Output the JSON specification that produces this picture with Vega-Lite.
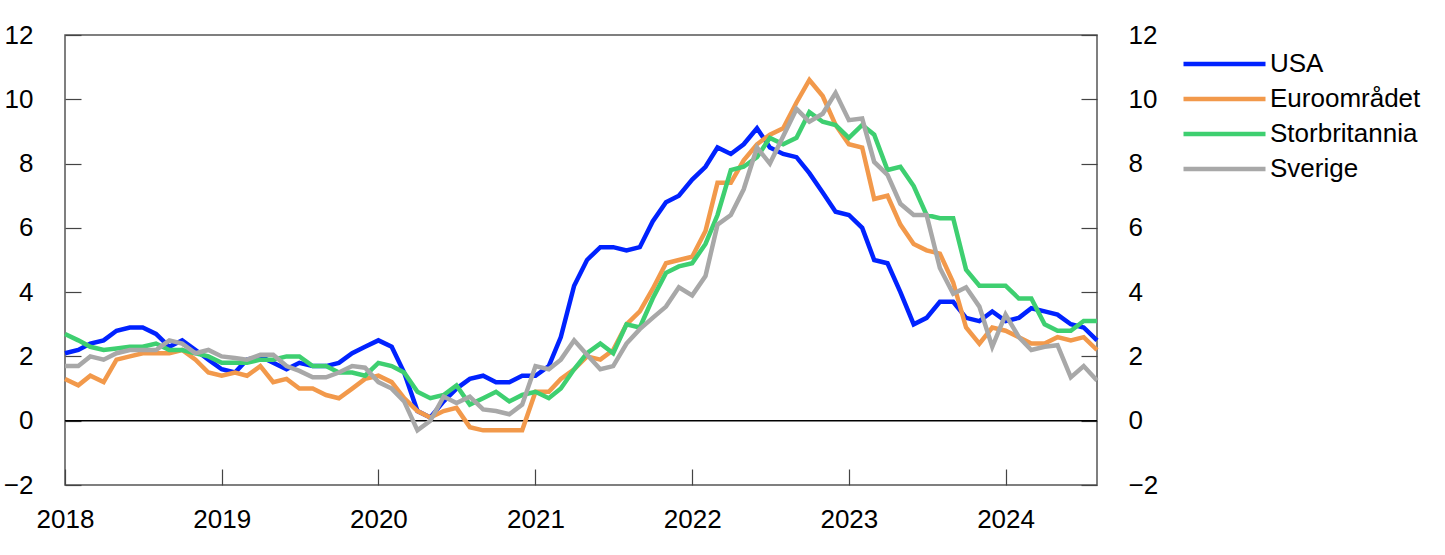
{
  "$schema": "https://vega.github.io/schema/vega-lite/v6.json",
  "autosize": {"type": "none"},
  "width": 1032,
  "height": 450,
  "padding": {"left": 65, "top": 35, "right": 348, "bottom": 70},
  "background": "white",
  "config": {
    "font": "Liberation Sans",
    "view": {"stroke": "#555555", "strokeWidth": 1.5},
    "axis": {"labelFont": "Liberation Sans", "labelFontSize": 26, "labelColor": "#000000", "tickColor": "#444444", "tickWidth": 1.2, "domain": false, "grid": false, "title": null}
  },
  "datasets": {
    "series": [
{"d":"2018-01","s":"USA","v":2.1},{"d":"2018-02","s":"USA","v":2.2},{"d":"2018-03","s":"USA","v":2.4},{"d":"2018-04","s":"USA","v":2.5},{"d":"2018-05","s":"USA","v":2.8},{"d":"2018-06","s":"USA","v":2.9},{"d":"2018-07","s":"USA","v":2.9},{"d":"2018-08","s":"USA","v":2.7},{"d":"2018-09","s":"USA","v":2.3},{"d":"2018-10","s":"USA","v":2.5},{"d":"2018-11","s":"USA","v":2.2},{"d":"2018-12","s":"USA","v":1.9},
{"d":"2019-01","s":"USA","v":1.6},{"d":"2019-02","s":"USA","v":1.5},{"d":"2019-03","s":"USA","v":1.9},{"d":"2019-04","s":"USA","v":2.0},{"d":"2019-05","s":"USA","v":1.8},{"d":"2019-06","s":"USA","v":1.6},{"d":"2019-07","s":"USA","v":1.8},{"d":"2019-08","s":"USA","v":1.7},{"d":"2019-09","s":"USA","v":1.7},{"d":"2019-10","s":"USA","v":1.8},{"d":"2019-11","s":"USA","v":2.1},{"d":"2019-12","s":"USA","v":2.3},
{"d":"2020-01","s":"USA","v":2.5},{"d":"2020-02","s":"USA","v":2.3},{"d":"2020-03","s":"USA","v":1.5},{"d":"2020-04","s":"USA","v":0.3},{"d":"2020-05","s":"USA","v":0.1},{"d":"2020-06","s":"USA","v":0.6},{"d":"2020-07","s":"USA","v":1.0},{"d":"2020-08","s":"USA","v":1.3},{"d":"2020-09","s":"USA","v":1.4},{"d":"2020-10","s":"USA","v":1.2},{"d":"2020-11","s":"USA","v":1.2},{"d":"2020-12","s":"USA","v":1.4},
{"d":"2021-01","s":"USA","v":1.4},{"d":"2021-02","s":"USA","v":1.7},{"d":"2021-03","s":"USA","v":2.6},{"d":"2021-04","s":"USA","v":4.2},{"d":"2021-05","s":"USA","v":5.0},{"d":"2021-06","s":"USA","v":5.4},{"d":"2021-07","s":"USA","v":5.4},{"d":"2021-08","s":"USA","v":5.3},{"d":"2021-09","s":"USA","v":5.4},{"d":"2021-10","s":"USA","v":6.2},{"d":"2021-11","s":"USA","v":6.8},{"d":"2021-12","s":"USA","v":7.0},
{"d":"2022-01","s":"USA","v":7.5},{"d":"2022-02","s":"USA","v":7.9},{"d":"2022-03","s":"USA","v":8.5},{"d":"2022-04","s":"USA","v":8.3},{"d":"2022-05","s":"USA","v":8.6},{"d":"2022-06","s":"USA","v":9.1},{"d":"2022-07","s":"USA","v":8.5},{"d":"2022-08","s":"USA","v":8.3},{"d":"2022-09","s":"USA","v":8.2},{"d":"2022-10","s":"USA","v":7.7},{"d":"2022-11","s":"USA","v":7.1},{"d":"2022-12","s":"USA","v":6.5},
{"d":"2023-01","s":"USA","v":6.4},{"d":"2023-02","s":"USA","v":6.0},{"d":"2023-03","s":"USA","v":5.0},{"d":"2023-04","s":"USA","v":4.9},{"d":"2023-05","s":"USA","v":4.0},{"d":"2023-06","s":"USA","v":3.0},{"d":"2023-07","s":"USA","v":3.2},{"d":"2023-08","s":"USA","v":3.7},{"d":"2023-09","s":"USA","v":3.7},{"d":"2023-10","s":"USA","v":3.2},{"d":"2023-11","s":"USA","v":3.1},{"d":"2023-12","s":"USA","v":3.4},
{"d":"2024-01","s":"USA","v":3.1},{"d":"2024-02","s":"USA","v":3.2},{"d":"2024-03","s":"USA","v":3.5},{"d":"2024-04","s":"USA","v":3.4},{"d":"2024-05","s":"USA","v":3.3},{"d":"2024-06","s":"USA","v":3.0},{"d":"2024-07","s":"USA","v":2.9},{"d":"2024-08","s":"USA","v":2.5},

{"d":"2018-01","s":"Euroområdet","v":1.3},{"d":"2018-02","s":"Euroområdet","v":1.1},{"d":"2018-03","s":"Euroområdet","v":1.4},{"d":"2018-04","s":"Euroområdet","v":1.2},{"d":"2018-05","s":"Euroområdet","v":1.9},{"d":"2018-06","s":"Euroområdet","v":2.0},{"d":"2018-07","s":"Euroområdet","v":2.1},{"d":"2018-08","s":"Euroområdet","v":2.1},{"d":"2018-09","s":"Euroområdet","v":2.1},{"d":"2018-10","s":"Euroområdet","v":2.2},{"d":"2018-11","s":"Euroområdet","v":1.9},{"d":"2018-12","s":"Euroområdet","v":1.5},
{"d":"2019-01","s":"Euroområdet","v":1.4},{"d":"2019-02","s":"Euroområdet","v":1.5},{"d":"2019-03","s":"Euroområdet","v":1.4},{"d":"2019-04","s":"Euroområdet","v":1.7},{"d":"2019-05","s":"Euroområdet","v":1.2},{"d":"2019-06","s":"Euroområdet","v":1.3},{"d":"2019-07","s":"Euroområdet","v":1.0},{"d":"2019-08","s":"Euroområdet","v":1.0},{"d":"2019-09","s":"Euroområdet","v":0.8},{"d":"2019-10","s":"Euroområdet","v":0.7},{"d":"2019-11","s":"Euroområdet","v":1.0},{"d":"2019-12","s":"Euroområdet","v":1.3},
{"d":"2020-01","s":"Euroområdet","v":1.4},{"d":"2020-02","s":"Euroområdet","v":1.2},{"d":"2020-03","s":"Euroområdet","v":0.7},{"d":"2020-04","s":"Euroområdet","v":0.3},{"d":"2020-05","s":"Euroområdet","v":0.1},{"d":"2020-06","s":"Euroområdet","v":0.3},{"d":"2020-07","s":"Euroområdet","v":0.4},{"d":"2020-08","s":"Euroområdet","v":-0.2},{"d":"2020-09","s":"Euroområdet","v":-0.3},{"d":"2020-10","s":"Euroområdet","v":-0.3},{"d":"2020-11","s":"Euroområdet","v":-0.3},{"d":"2020-12","s":"Euroområdet","v":-0.3},
{"d":"2021-01","s":"Euroområdet","v":0.9},{"d":"2021-02","s":"Euroområdet","v":0.9},{"d":"2021-03","s":"Euroområdet","v":1.3},{"d":"2021-04","s":"Euroområdet","v":1.6},{"d":"2021-05","s":"Euroområdet","v":2.0},{"d":"2021-06","s":"Euroområdet","v":1.9},{"d":"2021-07","s":"Euroområdet","v":2.2},{"d":"2021-08","s":"Euroområdet","v":3.0},{"d":"2021-09","s":"Euroområdet","v":3.4},{"d":"2021-10","s":"Euroområdet","v":4.1},{"d":"2021-11","s":"Euroområdet","v":4.9},{"d":"2021-12","s":"Euroområdet","v":5.0},
{"d":"2022-01","s":"Euroområdet","v":5.1},{"d":"2022-02","s":"Euroområdet","v":5.9},{"d":"2022-03","s":"Euroområdet","v":7.4},{"d":"2022-04","s":"Euroområdet","v":7.4},{"d":"2022-05","s":"Euroområdet","v":8.1},{"d":"2022-06","s":"Euroområdet","v":8.6},{"d":"2022-07","s":"Euroområdet","v":8.9},{"d":"2022-08","s":"Euroområdet","v":9.1},{"d":"2022-09","s":"Euroområdet","v":9.9},{"d":"2022-10","s":"Euroområdet","v":10.6},{"d":"2022-11","s":"Euroområdet","v":10.1},{"d":"2022-12","s":"Euroområdet","v":9.2},
{"d":"2023-01","s":"Euroområdet","v":8.6},{"d":"2023-02","s":"Euroområdet","v":8.5},{"d":"2023-03","s":"Euroområdet","v":6.9},{"d":"2023-04","s":"Euroområdet","v":7.0},{"d":"2023-05","s":"Euroområdet","v":6.1},{"d":"2023-06","s":"Euroområdet","v":5.5},{"d":"2023-07","s":"Euroområdet","v":5.3},{"d":"2023-08","s":"Euroområdet","v":5.2},{"d":"2023-09","s":"Euroområdet","v":4.3},{"d":"2023-10","s":"Euroområdet","v":2.9},{"d":"2023-11","s":"Euroområdet","v":2.4},{"d":"2023-12","s":"Euroområdet","v":2.9},
{"d":"2024-01","s":"Euroområdet","v":2.8},{"d":"2024-02","s":"Euroområdet","v":2.6},{"d":"2024-03","s":"Euroområdet","v":2.4},{"d":"2024-04","s":"Euroområdet","v":2.4},{"d":"2024-05","s":"Euroområdet","v":2.6},{"d":"2024-06","s":"Euroområdet","v":2.5},{"d":"2024-07","s":"Euroområdet","v":2.6},{"d":"2024-08","s":"Euroområdet","v":2.2},

{"d":"2018-01","s":"Storbritannia","v":2.7},{"d":"2018-02","s":"Storbritannia","v":2.5},{"d":"2018-03","s":"Storbritannia","v":2.3},{"d":"2018-04","s":"Storbritannia","v":2.2},{"d":"2018-05","s":"Storbritannia","v":2.25},{"d":"2018-06","s":"Storbritannia","v":2.3},{"d":"2018-07","s":"Storbritannia","v":2.3},{"d":"2018-08","s":"Storbritannia","v":2.4},{"d":"2018-09","s":"Storbritannia","v":2.2},{"d":"2018-10","s":"Storbritannia","v":2.2},{"d":"2018-11","s":"Storbritannia","v":2.1},{"d":"2018-12","s":"Storbritannia","v":2.0},
{"d":"2019-01","s":"Storbritannia","v":1.8},{"d":"2019-02","s":"Storbritannia","v":1.8},{"d":"2019-03","s":"Storbritannia","v":1.8},{"d":"2019-04","s":"Storbritannia","v":1.9},{"d":"2019-05","s":"Storbritannia","v":1.9},{"d":"2019-06","s":"Storbritannia","v":2.0},{"d":"2019-07","s":"Storbritannia","v":2.0},{"d":"2019-08","s":"Storbritannia","v":1.7},{"d":"2019-09","s":"Storbritannia","v":1.7},{"d":"2019-10","s":"Storbritannia","v":1.5},{"d":"2019-11","s":"Storbritannia","v":1.5},{"d":"2019-12","s":"Storbritannia","v":1.4},
{"d":"2020-01","s":"Storbritannia","v":1.8},{"d":"2020-02","s":"Storbritannia","v":1.7},{"d":"2020-03","s":"Storbritannia","v":1.5},{"d":"2020-04","s":"Storbritannia","v":0.9},{"d":"2020-05","s":"Storbritannia","v":0.7},{"d":"2020-06","s":"Storbritannia","v":0.8},{"d":"2020-07","s":"Storbritannia","v":1.1},{"d":"2020-08","s":"Storbritannia","v":0.5},{"d":"2020-09","s":"Storbritannia","v":0.7},{"d":"2020-10","s":"Storbritannia","v":0.9},{"d":"2020-11","s":"Storbritannia","v":0.6},{"d":"2020-12","s":"Storbritannia","v":0.8},
{"d":"2021-01","s":"Storbritannia","v":0.9},{"d":"2021-02","s":"Storbritannia","v":0.7},{"d":"2021-03","s":"Storbritannia","v":1.0},{"d":"2021-04","s":"Storbritannia","v":1.6},{"d":"2021-05","s":"Storbritannia","v":2.1},{"d":"2021-06","s":"Storbritannia","v":2.4},{"d":"2021-07","s":"Storbritannia","v":2.1},{"d":"2021-08","s":"Storbritannia","v":3.0},{"d":"2021-09","s":"Storbritannia","v":2.9},{"d":"2021-10","s":"Storbritannia","v":3.8},{"d":"2021-11","s":"Storbritannia","v":4.6},{"d":"2021-12","s":"Storbritannia","v":4.8},
{"d":"2022-01","s":"Storbritannia","v":4.9},{"d":"2022-02","s":"Storbritannia","v":5.5},{"d":"2022-03","s":"Storbritannia","v":6.4},{"d":"2022-04","s":"Storbritannia","v":7.8},{"d":"2022-05","s":"Storbritannia","v":7.9},{"d":"2022-06","s":"Storbritannia","v":8.2},{"d":"2022-07","s":"Storbritannia","v":8.8},{"d":"2022-08","s":"Storbritannia","v":8.6},{"d":"2022-09","s":"Storbritannia","v":8.8},{"d":"2022-10","s":"Storbritannia","v":9.6},{"d":"2022-11","s":"Storbritannia","v":9.3},{"d":"2022-12","s":"Storbritannia","v":9.2},
{"d":"2023-01","s":"Storbritannia","v":8.8},{"d":"2023-02","s":"Storbritannia","v":9.2},{"d":"2023-03","s":"Storbritannia","v":8.9},{"d":"2023-04","s":"Storbritannia","v":7.8},{"d":"2023-05","s":"Storbritannia","v":7.9},{"d":"2023-06","s":"Storbritannia","v":7.3},{"d":"2023-07","s":"Storbritannia","v":6.4},{"d":"2023-08","s":"Storbritannia","v":6.3},{"d":"2023-09","s":"Storbritannia","v":6.3},{"d":"2023-10","s":"Storbritannia","v":4.7},{"d":"2023-11","s":"Storbritannia","v":4.2},{"d":"2023-12","s":"Storbritannia","v":4.2},
{"d":"2024-01","s":"Storbritannia","v":4.2},{"d":"2024-02","s":"Storbritannia","v":3.8},{"d":"2024-03","s":"Storbritannia","v":3.8},{"d":"2024-04","s":"Storbritannia","v":3.0},{"d":"2024-05","s":"Storbritannia","v":2.8},{"d":"2024-06","s":"Storbritannia","v":2.8},{"d":"2024-07","s":"Storbritannia","v":3.1},{"d":"2024-08","s":"Storbritannia","v":3.1},

{"d":"2018-01","s":"Sverige","v":1.7},{"d":"2018-02","s":"Sverige","v":1.7},{"d":"2018-03","s":"Sverige","v":2.0},{"d":"2018-04","s":"Sverige","v":1.9},{"d":"2018-05","s":"Sverige","v":2.1},{"d":"2018-06","s":"Sverige","v":2.2},{"d":"2018-07","s":"Sverige","v":2.2},{"d":"2018-08","s":"Sverige","v":2.2},{"d":"2018-09","s":"Sverige","v":2.5},{"d":"2018-10","s":"Sverige","v":2.4},{"d":"2018-11","s":"Sverige","v":2.1},{"d":"2018-12","s":"Sverige","v":2.2},
{"d":"2019-01","s":"Sverige","v":2.0},{"d":"2019-02","s":"Sverige","v":1.95},{"d":"2019-03","s":"Sverige","v":1.9},{"d":"2019-04","s":"Sverige","v":2.05},{"d":"2019-05","s":"Sverige","v":2.05},{"d":"2019-06","s":"Sverige","v":1.7},{"d":"2019-07","s":"Sverige","v":1.55},{"d":"2019-08","s":"Sverige","v":1.35},{"d":"2019-09","s":"Sverige","v":1.35},{"d":"2019-10","s":"Sverige","v":1.5},{"d":"2019-11","s":"Sverige","v":1.7},{"d":"2019-12","s":"Sverige","v":1.65},
{"d":"2020-01","s":"Sverige","v":1.2},{"d":"2020-02","s":"Sverige","v":1.0},{"d":"2020-03","s":"Sverige","v":0.6},{"d":"2020-04","s":"Sverige","v":-0.3},{"d":"2020-05","s":"Sverige","v":0.0},{"d":"2020-06","s":"Sverige","v":0.75},{"d":"2020-07","s":"Sverige","v":0.55},{"d":"2020-08","s":"Sverige","v":0.75},{"d":"2020-09","s":"Sverige","v":0.35},{"d":"2020-10","s":"Sverige","v":0.3},{"d":"2020-11","s":"Sverige","v":0.2},{"d":"2020-12","s":"Sverige","v":0.5},
{"d":"2021-01","s":"Sverige","v":1.7},{"d":"2021-02","s":"Sverige","v":1.6},{"d":"2021-03","s":"Sverige","v":1.9},{"d":"2021-04","s":"Sverige","v":2.5},{"d":"2021-05","s":"Sverige","v":2.05},{"d":"2021-06","s":"Sverige","v":1.6},{"d":"2021-07","s":"Sverige","v":1.7},{"d":"2021-08","s":"Sverige","v":2.4},{"d":"2021-09","s":"Sverige","v":2.85},{"d":"2021-10","s":"Sverige","v":3.2},{"d":"2021-11","s":"Sverige","v":3.55},{"d":"2021-12","s":"Sverige","v":4.15},
{"d":"2022-01","s":"Sverige","v":3.9},{"d":"2022-02","s":"Sverige","v":4.5},{"d":"2022-03","s":"Sverige","v":6.1},{"d":"2022-04","s":"Sverige","v":6.4},{"d":"2022-05","s":"Sverige","v":7.2},{"d":"2022-06","s":"Sverige","v":8.5},{"d":"2022-07","s":"Sverige","v":8.0},{"d":"2022-08","s":"Sverige","v":8.85},{"d":"2022-09","s":"Sverige","v":9.7},{"d":"2022-10","s":"Sverige","v":9.3},{"d":"2022-11","s":"Sverige","v":9.55},{"d":"2022-12","s":"Sverige","v":10.2},
{"d":"2023-01","s":"Sverige","v":9.35},{"d":"2023-02","s":"Sverige","v":9.4},{"d":"2023-03","s":"Sverige","v":8.05},{"d":"2023-04","s":"Sverige","v":7.65},{"d":"2023-05","s":"Sverige","v":6.75},{"d":"2023-06","s":"Sverige","v":6.4},{"d":"2023-07","s":"Sverige","v":6.4},{"d":"2023-08","s":"Sverige","v":4.75},{"d":"2023-09","s":"Sverige","v":3.95},{"d":"2023-10","s":"Sverige","v":4.15},{"d":"2023-11","s":"Sverige","v":3.55},{"d":"2023-12","s":"Sverige","v":2.3},
{"d":"2024-01","s":"Sverige","v":3.3},{"d":"2024-02","s":"Sverige","v":2.6},{"d":"2024-03","s":"Sverige","v":2.2},{"d":"2024-04","s":"Sverige","v":2.3},{"d":"2024-05","s":"Sverige","v":2.35},{"d":"2024-06","s":"Sverige","v":1.35},{"d":"2024-07","s":"Sverige","v":1.7},{"d":"2024-08","s":"Sverige","v":1.25}
    ],
    "zero": [{"z": 0}]
  },
  "layer": [
    {
      "data": {"name": "zero"},
      "mark": {"type": "rule", "color": "#000000", "strokeWidth": 1.5},
      "encoding": {
        "y": {"field": "z", "type": "quantitative",
              "scale": {"domain": [-2, 12], "nice": false, "zero": false},
              "axis": {"orient": "right", "values": [-2, 0, 2, 4, 6, 8, 10, 12], "tickSize": -16, "labelPadding": 47, "labelAlign": "left", "labelFlush": false}}
      }
    },
    {
      "data": {"name": "series"},
      "mark": {"type": "line", "strokeWidth": 4.5, "strokeJoin": "miter", "strokeCap": "butt"},
      "encoding": {
        "x": {"field": "d", "type": "temporal",
              "scale": {"type": "utc", "domain": [{"year": 2018, "month": 1, "date": 1, "utc": true}, {"year": 2024, "month": 8, "date": 1, "utc": true}], "nice": false},
              "axis": {"orient": "bottom", "format": "%Y", "tickSize": -16, "labelPadding": 37, "labelFlush": false, "labelAlign": "center",
                       "values": [{"year": 2018, "month": 1, "date": 1, "utc": true}, {"year": 2019, "month": 1, "date": 1, "utc": true}, {"year": 2020, "month": 1, "date": 1, "utc": true}, {"year": 2021, "month": 1, "date": 1, "utc": true}, {"year": 2022, "month": 1, "date": 1, "utc": true}, {"year": 2023, "month": 1, "date": 1, "utc": true}, {"year": 2024, "month": 1, "date": 1, "utc": true}]}},
        "y": {"field": "v", "type": "quantitative",
              "scale": {"domain": [-2, 12], "nice": false, "zero": false},
              "axis": {"orient": "left", "values": [-2, 0, 2, 4, 6, 8, 10, 12], "tickSize": -16, "labelPadding": 48, "labelFlush": false}},
        "color": {"field": "s", "type": "nominal",
                  "scale": {"domain": ["USA", "Euroområdet", "Storbritannia", "Sverige"], "range": ["#0022ff", "#f2994b", "#3ecf70", "#a8a8a8"]},
                  "legend": {"title": null, "orient": "none", "legendX": 1116, "legendY": 11.5, "symbolType": "stroke", "symbolSize": 6724, "symbolStrokeWidth": 4.5, "clipHeight": 35, "rowPadding": 0, "labelOffset": 2, "labelFontSize": 26, "labelFont": "Liberation Sans", "labelColor": "#000000", "padding": 0}}
      }
    }
  ],
  "resolve": {"axis": {"y": "independent"}}
}
